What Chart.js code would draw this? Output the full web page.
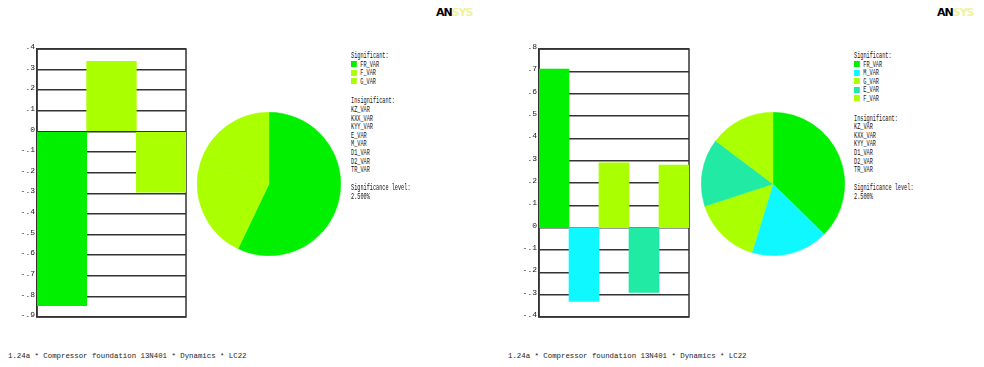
<!DOCTYPE html>
<html>
<head>
<meta charset="utf-8">
<script src="https://cdn.jsdelivr.net/npm/chart.js@4.4.0/dist/chart.umd.min.js"></script>
<style>
  body { margin: 0; background: #fff; width: 984px; height: 367px; position: relative; overflow: hidden; }
  canvas { position: absolute; }
  .txt { position: absolute; font-family: 'Liberation Mono', monospace; color: #111; white-space: pre; transform-origin: left top; }
  .legend { font-size: 9px; line-height: 8.6px; transform: scaleX(0.58); }
  .legend .box { display: inline-block; width: 10px; height: 6px; margin-right: 6px; vertical-align: -0.5px; }
  .legend .gap { height: 11px; }
  .footer { font-size: 8px; transform: scaleX(0.92); color: #222; }
  .logo { position: absolute; font-family: 'DejaVu Sans', sans-serif; font-weight: bold; font-size: 11px; letter-spacing: -1px; }
  .logo .sys { color: #f0f2a0; }
</style>
</head>
<body>
<canvas id="barLeft" width="200" height="290" style="left:0;top:40px"></canvas>
<canvas id="pieLeft" width="144" height="144" style="left:197px;top:112px"></canvas>
<canvas id="barRight" width="200" height="290" style="left:500px;top:40px"></canvas>
<canvas id="pieRight" width="144" height="144" style="left:701px;top:112px"></canvas>

<div class="logo" style="left:436px;top:6px">AN<span class="sys">SYS</span></div>
<div class="logo" style="left:937px;top:6px">AN<span class="sys">SYS</span></div>

<div id="legendLeft" class="txt legend" style="left:351px;top:52px"></div>
<div id="sigLeft" class="txt legend" style="left:351px;top:184px"></div>
<div id="legendRight" class="txt legend" style="left:854px;top:52px"></div>
<div id="sigRight" class="txt legend" style="left:854px;top:184px"></div>

<div id="footLeft" class="txt footer" style="left:8px;top:351px"></div>
<div id="footRight" class="txt footer" style="left:508px;top:351px"></div>

<script>
// left run
const leftLabels = ['FR_VAR', 'F_VAR', 'G_VAR'];
const leftValues = [-0.845, 0.34, -0.295];
const leftColors = ['#00f000', '#aaff00', '#aaff00'];
const leftInsignificant = ['KZ_VAR', 'KXX_VAR', 'KYY_VAR', 'E_VAR', 'M_VAR', 'D1_VAR', 'D2_VAR', 'TR_VAR'];
const leftMin = -0.9;
const leftMax = 0.4;

// right run
const rightLabels = ['FR_VAR', 'M_VAR', 'G_VAR', 'E_VAR', 'F_VAR'];
const rightValues = [0.71, -0.33, 0.29, -0.29, 0.28];
const rightColors = ['#00f000', '#10f8ff', '#aaff00', '#20eaa4', '#aaff00'];
const rightInsignificant = ['KZ_VAR', 'KXX_VAR', 'KYY_VAR', 'D1_VAR', 'D2_VAR', 'TR_VAR'];
const rightMin = -0.4;
const rightMax = 0.8;

const significance = '2.500%';
const footerText = '1.24a * Compressor foundation 13N401 * Dynamics * LC22';

// draws the outer box of the plot (right edge is not drawn by the axis)
const frame = {
  id: 'frame',
  beforeDatasetsDraw(chart) {
    const { ctx, chartArea } = chart;
    ctx.save();
    ctx.strokeStyle = '#333';
    ctx.lineWidth = 1.5;
    ctx.strokeRect(chartArea.left, chartArea.top, chartArea.right - chartArea.left, chartArea.bottom - chartArea.top);
    ctx.restore();
  }
};

function tickText(v) {
  const r = Math.round(v * 10) / 10;
  if (r === 0) return '0';
  return (r < 0 ? '-' : '') + String(Math.abs(r)).replace(/^0/, '');
}

function makeBar(id, labels, values, colors, min, max, axisWidth, padRight) {
  return new Chart(document.getElementById(id), {
    type: 'bar',
    data: {
      labels: labels,
      datasets: [{
        data: values,
        backgroundColor: colors,
        borderWidth: 0,
        barPercentage: 1,
        categoryPercentage: 1
      }]
    },
    options: {
      responsive: false,
      animation: false,
      layout: { padding: { top: 9, bottom: 13, left: 0, right: padRight } },
      plugins: { legend: { display: false }, tooltip: { enabled: false } },
      scales: {
        x: { display: false },
        y: {
          min: min,
          max: max,
          afterFit: (scale) => { scale.width = axisWidth; },
          ticks: {
            stepSize: 0.1,
            padding: 2,
            labelOffset: -2,
            color: '#222',
            font: { family: 'Liberation Mono', size: 8 },
            callback: tickText
          },
          grid: { color: '#333', lineWidth: 1.5, drawTicks: false },
          border: { color: '#333', width: 1.5 }
        }
      }
    },
    plugins: [frame]
  });
}

function makePie(id, values, colors) {
  return new Chart(document.getElementById(id), {
    type: 'pie',
    data: {
      datasets: [{
        data: values.map(Math.abs),
        backgroundColor: colors,
        borderColor: colors,
        borderWidth: 0.5,
        hoverOffset: 0,
        offset: 0
      }]
    },
    options: {
      responsive: false,
      animation: false,
      layout: { padding: 0 },
      plugins: { legend: { display: false }, tooltip: { enabled: false } }
    }
  });
}

function fillLegend(id, labels, colors, insignificant) {
  const el = document.getElementById(id);
  let html = '<div>Significant:</div>';
  labels.forEach((l, i) => {
    html += '<div><span class="box" style="background:' + colors[i] + '"></span>' + l + '</div>';
  });
  html += '<div class="gap"></div><div>Insignificant:</div>';
  insignificant.forEach(l => { html += '<div>' + l + '</div>'; });
  el.innerHTML = html;
}

makeBar('barLeft', leftLabels, leftValues, leftColors, leftMin, leftMax, 37, 14);
makeBar('barRight', rightLabels, rightValues, rightColors, rightMin, rightMax, 39, 11);
makePie('pieLeft', leftValues, leftColors);
makePie('pieRight', rightValues, rightColors);

fillLegend('legendLeft', leftLabels, leftColors, leftInsignificant);
fillLegend('legendRight', rightLabels, rightColors, rightInsignificant);
['sigLeft', 'sigRight'].forEach(id => {
  document.getElementById(id).innerHTML = '<div>Significance level:</div><div>' + significance + '</div>';
});
document.getElementById('footLeft').textContent = footerText;
document.getElementById('footRight').textContent = footerText;
</script>
</body>
</html>
